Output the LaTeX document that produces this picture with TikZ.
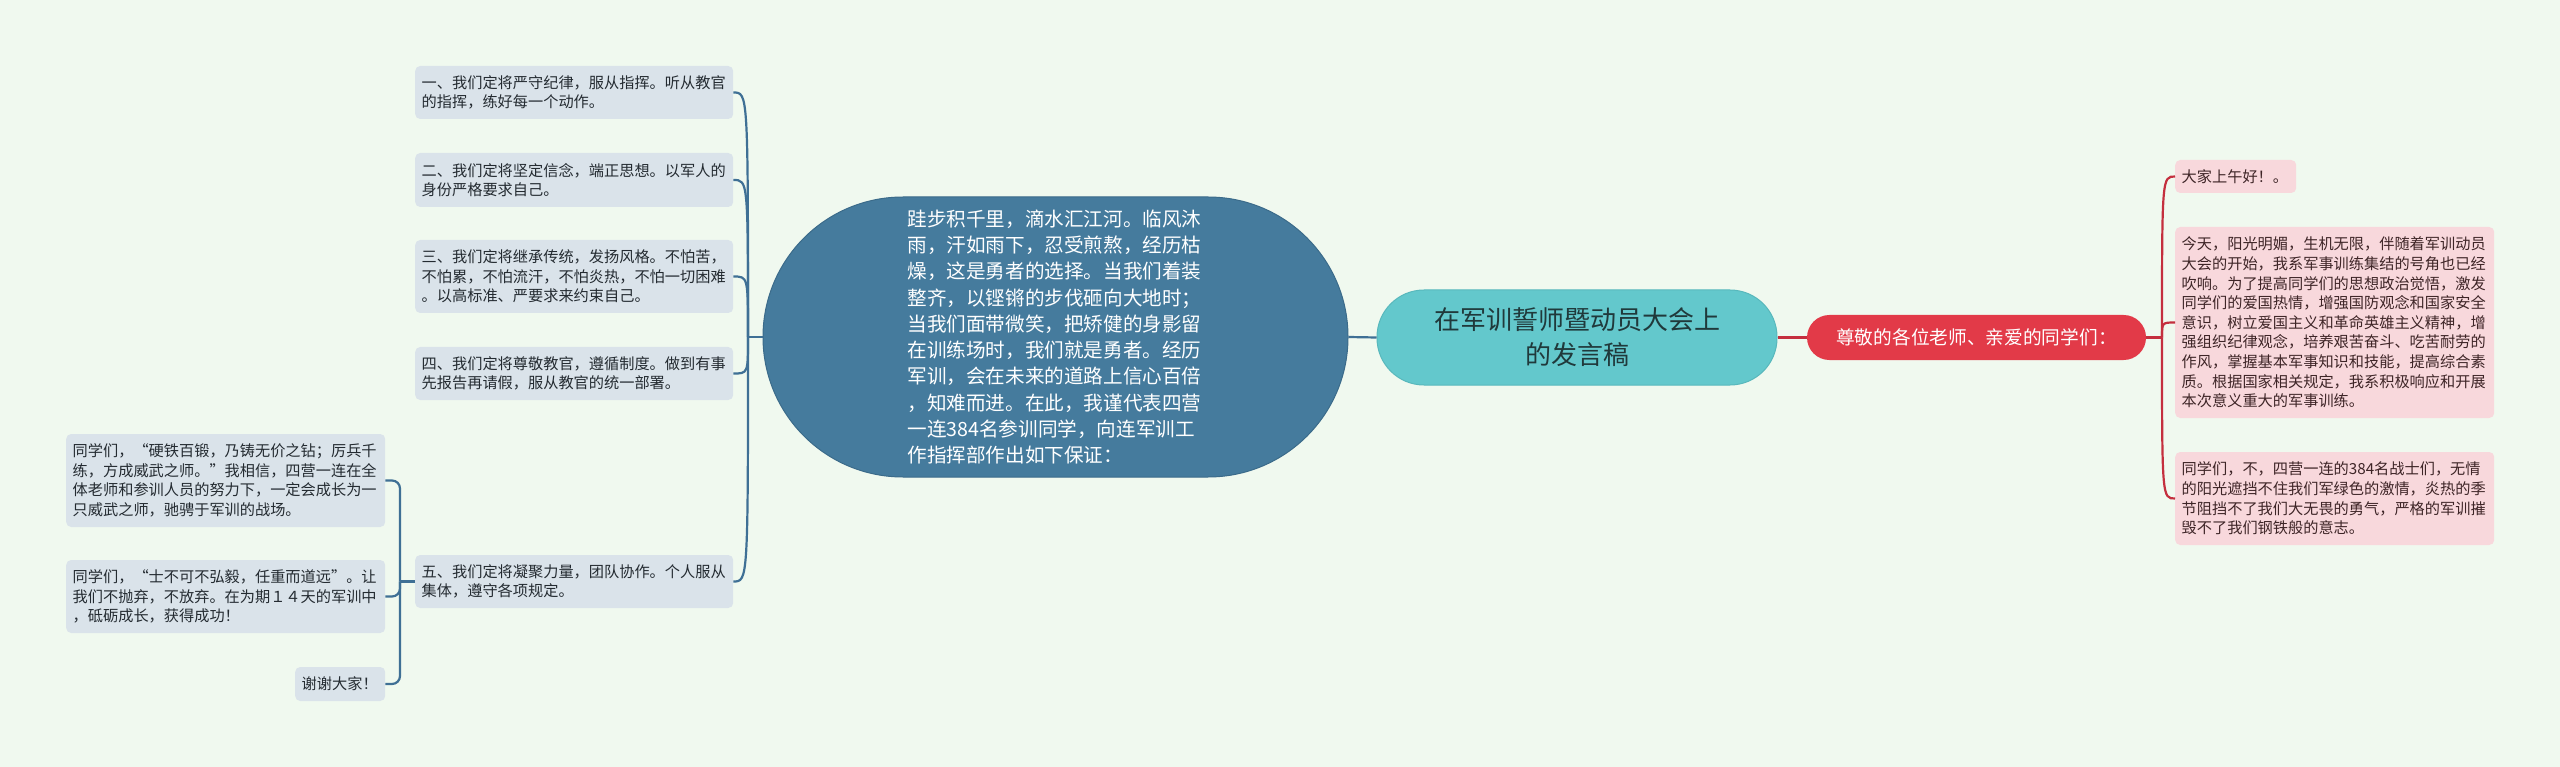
\documentclass[tikz,border=0pt]{standalone}
\usepackage{fontspec}
\setmainfont{Noto Sans CJK SC}
\definecolor{bg}{HTML}{F0F9EF}
\definecolor{ellblue}{HTML}{457B9D}
\definecolor{ellborder}{HTML}{3B6B8A}
\definecolor{boxblue}{HTML}{DAE3EA}
\definecolor{lineblue}{HTML}{3F7095}
\definecolor{cyanfill}{HTML}{63C8CC}
\definecolor{cyanborder}{HTML}{58B8BC}
\definecolor{cyantext}{HTML}{20393B}
\definecolor{rednode}{HTML}{E23A48}
\definecolor{boxred}{HTML}{F8D8DC}
\definecolor{linered}{HTML}{C42F3E}
\definecolor{txtblue}{HTML}{242B31}
\definecolor{txtred}{HTML}{3E2527}
\tikzset{
  bbox/.style={rectangle, rounded corners=5pt, fill=boxblue, text=txtblue,
    font=\fontsize{15.2}{19.6}\selectfont, align=left, inner xsep=6.5pt,
    inner ysep=0pt, anchor=west},
  rbox/.style={rectangle, rounded corners=5pt, fill=boxred, text=txtred,
    font=\fontsize{15.2}{19.6}\selectfont, align=left, inner xsep=6.5pt,
    inner ysep=0pt, anchor=west},
  bl/.style={draw=lineblue, line width=2.2pt},
  rl/.style={draw=linered, line width=2.2pt},
}
\begin{document}
\begin{tikzpicture}[x=1pt, y=-1pt]
\fill[bg] (0,0) rectangle (2560,767);
\useasboundingbox (0,0) rectangle (2560,767);

% central topic
\node[rectangle, rounded corners=47pt, fill=cyanfill, draw=cyanborder, line width=1pt,
  minimum width=400pt, minimum height=95pt, inner sep=0pt, text=cyantext,
  font=\fontsize{26}{35}\selectfont, align=center] (c) at (1577,337.5)
  {在军训誓师暨动员大会上\\的发言稿};

% left main branch (stadium)
\node[rectangle, rounded corners=139.9pt, fill=ellblue, draw=ellborder, line width=1pt,
  minimum width=585pt, minimum height=280pt, inner sep=0pt, text=white,
  font=\fontsize{19.6}{26.3}\selectfont, align=left, text width=296pt] (e) at (1055.5,337)
  {跬步积千里，滴水汇江河。临风沐\\雨，汗如雨下，忍受煎熬，经历枯\\燥，这是勇者的选择。当我们着装\\整齐，以铿锵的步伐砸向大地时；\\当我们面带微笑，把矫健的身影留\\在训练场时，我们就是勇者。经历\\军训，会在未来的道路上信心百倍\\，知难而进。在此，我谨代表四营\\一连384名参训同学，向连军训工\\作指挥部作出如下保证：};

% right main branch
\node[rectangle, rounded corners=22.4pt, fill=rednode, minimum width=339pt,
  minimum height=45pt, inner sep=0pt, text=white,
  font=\fontsize{18.7}{22}\selectfont] (r) at (1976.5,337.5)
  {尊敬的各位老师、亲爱的同学们：};

% left children
\node[bbox, text width=305pt, minimum height=53pt] (b1) at (415,92.5)
  {一、我们定将严守纪律，服从指挥。听从教官\\的指挥，练好每一个动作。};
\node[bbox, text width=305pt, minimum height=54pt] (b2) at (415,180)
  {二、我们定将坚定信念，端正思想。以军人的\\身份严格要求自己。};
\node[bbox, text width=305pt, minimum height=73pt] (b3) at (415,276.5)
  {三、我们定将继承传统，发扬风格。不怕苦，\\不怕累，不怕流汗，不怕炎热，不怕一切困难\\。以高标准、严要求来约束自己。};
\node[bbox, text width=305pt, minimum height=53pt] (b4) at (415,373.5)
  {四、我们定将尊敬教官，遵循制度。做到有事\\先报告再请假，服从教官的统一部署。};
\node[bbox, text width=305pt, minimum height=53pt] (b5) at (415,581.5)
  {五、我们定将凝聚力量，团队协作。个人服从\\集体，遵守各项规定。};

% grandchildren of b5
\node[bbox, text width=306pt, minimum height=93pt] (la) at (66,480.5)
  {同学们，“硬铁百锻，乃铸无价之钻；厉兵千\\练，方成威武之师。”我相信，四营一连在全\\体老师和参训人员的努力下，一定会成长为一\\只威武之师，驰骋于军训的战场。};
\node[bbox, text width=306pt, minimum height=73pt] (lb) at (66,596.5)
  {同学们，“士不可不弘毅，任重而道远”。让\\我们不抛弃，不放弃。在为期１４天的军训中\\，砥砺成长，获得成功！};
\node[bbox, text width=77pt, minimum height=34pt] (lc) at (295,684)
  {谢谢大家！};

% right children
\node[rbox, text width=108pt, minimum height=33pt] (r1) at (2175,176.5)
  {大家上午好！。};
\node[rbox, text width=306pt, minimum height=191pt] (r2) at (2175,322.5)
  {今天，阳光明媚，生机无限，伴随着军训动员\\大会的开始，我系军事训练集结的号角也已经\\吹响。为了提高同学们的思想政治觉悟，激发\\同学们的爱国热情，增强国防观念和国家安全\\意识，树立爱国主义和革命英雄主义精神，增\\强组织纪律观念，培养艰苦奋斗、吃苦耐劳的\\作风，掌握基本军事知识和技能，提高综合素\\质。根据国家相关规定，我系积极响应和开展\\本次意义重大的军事训练。};
\node[rbox, text width=306pt, minimum height=93pt] (r3) at (2175,498.5)
  {同学们，不，四营一连的384名战士们，无情\\的阳光遮挡不住我们军绿色的激情，炎热的季\\节阻挡不了我们大无畏的勇气，严格的军训摧\\毁不了我们钢铁般的意志。};

% junctions
\coordinate (j1) at (748,337);
\coordinate (j2) at (2162,337.5);
\coordinate (j3) at (400,581.5);

% connectors
\draw[bl] (e.east) -- (c.west);
\draw[rl] (c.east) -- (r.west);

\draw[bl] (e.west) -- (j1);
\foreach \n in {b1,b2,b3,b4,b5}
  \draw[bl] (j1) .. controls (j1 |- \n.east) .. (\n.east);

\draw[rl] (r.east) -- (j2);
\foreach \n in {r1,r2,r3}
  \draw[rl] (j2) .. controls (j2 |- \n.west) .. (\n.west);

\draw[bl] (b5.west) -- (j3);
\foreach \n in {la,lb,lc}
  \draw[bl, rounded corners=8pt] (j3) |- (\n.east);
\end{tikzpicture}
\end{document}
